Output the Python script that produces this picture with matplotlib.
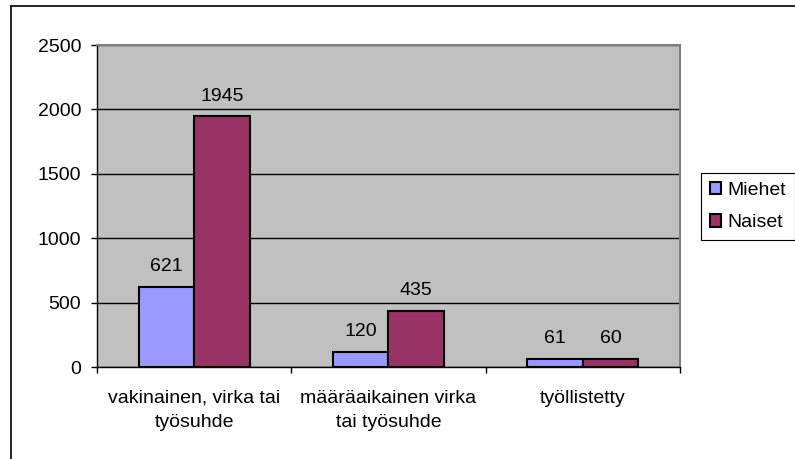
import numpy as np
import matplotlib.pyplot as plt
from matplotlib.patches import Patch
from matplotlib.lines import Line2D

plt.rcParams['font.family'] = ['Liberation Sans', 'DejaVu Sans']

categories = ["vakinainen, virka tai\ntyösuhde", "määräaikainen virka\ntai työsuhde", "työllistetty"]
miehet = [621, 120, 61]
naiset = [1945, 435, 60]
series_names = ["Miehet", "Naiset"]
yticks = [0, 500, 1000, 1500, 2000, 2500]

c_miehet = '#9999FF'
c_naiset = '#993366'
fs = 14

W, H = 795, 459
fig = plt.figure(figsize=(W / 100, H / 100), dpi=100)

# outer chart border (only top and left visible)
fig.add_artist(Line2D([11 / W, 11 / W], [0, 1 - 6 / H], color='black', lw=1.2))
fig.add_artist(Line2D([11 / W, 1], [1 - 6 / H, 1 - 6 / H], color='black', lw=1.2))

ax = fig.add_axes([97 / W, 1 - 367 / H, 583 / W, 322 / H])
ax.set_facecolor('#C0C0C0')

x = np.arange(len(categories))
w = 1 / 3.5
b1 = ax.bar(x - w / 2, miehet, w, color=c_miehet, edgecolor='black', linewidth=1.5, zorder=3)
b2 = ax.bar(x + w / 2, naiset, w, color=c_naiset, edgecolor='black', linewidth=1.5, zorder=3)

for bars, vals in [(b1, miehet), (b2, naiset)]:
    for r, v in zip(bars, vals):
        ax.annotate(str(v), (r.get_x() + r.get_width() / 2, v), xytext=(0, 8.5),
                    textcoords='offset points', ha='center', va='bottom', fontsize=fs)

ax.set_ylim(0, 2500)
ax.set_xlim(-0.5, 2.5)
ax.set_yticks(yticks)
ax.yaxis.grid(True, color='black', lw=1)
ax.set_axisbelow(True)
ax.tick_params(axis='y', length=4.3, width=1, direction='out', pad=7, labelsize=fs)

ax.set_xticks(x)
ax.set_xticklabels(categories, fontsize=fs, linespacing=1.55)
ax.tick_params(axis='x', which='major', length=0, pad=16.5)
ax.set_xticks([-0.5, 0.5, 1.5, 2.5], minor=True)
ax.tick_params(axis='x', which='minor', length=4.5, width=1, direction='out')

for s in ['top', 'right']:
    ax.spines[s].set_color('#808080')
    ax.spines[s].set_linewidth(1.5)
for s in ['left', 'bottom']:
    ax.spines[s].set_color('black')
    ax.spines[s].set_linewidth(1)

handles = [Patch(facecolor=c_miehet, edgecolor='black', linewidth=1.5),
           Patch(facecolor=c_naiset, edgecolor='black', linewidth=1.5)]
leg = fig.legend(handles, series_names, loc='upper left',
                 bbox_to_anchor=(701 / W, 1 - 173 / H), borderaxespad=0,
                 fontsize=fs, handlelength=0.6, handleheight=0.6, handletextpad=0.3,
                 labelspacing=0.8, borderpad=0.45, fancybox=False, framealpha=1,
                 edgecolor='black')
leg.get_frame().set_linewidth(0.8)

fig.savefig('out.png', dpi=100)
